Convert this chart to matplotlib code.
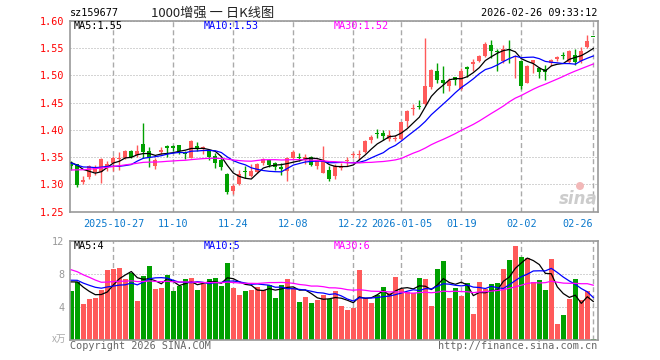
import numpy as np
import pandas as pd
import matplotlib
matplotlib.use("Agg")
import matplotlib.pyplot as plt
from matplotlib.patches import Ellipse

# daily candles, 2025-10-16 .. 2026-02-26 (88 trading days)
opens = [1.340, 1.337, 1.304, 1.314, 1.323, 1.322, 1.333, 1.340, 1.347, 1.348,
         1.362, 1.354, 1.375, 1.361, 1.333, 1.359, 1.370, 1.371, 1.372, 1.357,
         1.349, 1.370, 1.365, 1.362, 1.353, 1.345, 1.319, 1.287, 1.300, 1.323,
         1.315, 1.322, 1.339, 1.344, 1.339, 1.331, 1.325, 1.349, 1.349, 1.344,
         1.350, 1.333, 1.321, 1.327, 1.315, 1.330, 1.343, 1.354, 1.354, 1.359,
         1.382, 1.395, 1.395, 1.383, 1.384, 1.383, 1.417, 1.438, 1.444, 1.448,
         1.478, 1.508, 1.492, 1.481, 1.497, 1.476, 1.516, 1.521, 1.527, 1.536,
         1.556, 1.545, 1.527, 1.548, 1.533, 1.526, 1.487, 1.522, 1.514, 1.511,
         1.522, 1.530, 1.537, 1.525, 1.538, 1.526, 1.553, 1.571]
highs = [1.342, 1.338, 1.316, 1.336, 1.336, 1.349, 1.343, 1.352, 1.360, 1.364,
         1.364, 1.372, 1.412, 1.369, 1.348, 1.369, 1.372, 1.372, 1.373, 1.362,
         1.381, 1.378, 1.370, 1.364, 1.357, 1.348, 1.320, 1.301, 1.326, 1.333,
         1.337, 1.339, 1.348, 1.346, 1.341, 1.339, 1.351, 1.364, 1.358, 1.355,
         1.353, 1.346, 1.371, 1.333, 1.338, 1.339, 1.351, 1.360, 1.364, 1.382,
         1.391, 1.401, 1.400, 1.399, 1.391, 1.415, 1.437, 1.447, 1.455, 1.569,
         1.512, 1.523, 1.517, 1.496, 1.498, 1.514, 1.517, 1.531, 1.538, 1.561,
         1.565, 1.549, 1.556, 1.565, 1.537, 1.528, 1.519, 1.529, 1.516, 1.520,
         1.531, 1.536, 1.543, 1.547, 1.548, 1.553, 1.574, 1.571]
lows = [1.326, 1.295, 1.300, 1.310, 1.318, 1.302, 1.325, 1.325, 1.327, 1.347,
        1.348, 1.350, 1.348, 1.331, 1.329, 1.355, 1.350, 1.362, 1.356, 1.346,
        1.348, 1.362, 1.356, 1.344, 1.330, 1.327, 1.283, 1.283, 1.299, 1.311,
        1.313, 1.320, 1.336, 1.332, 1.327, 1.318, 1.307, 1.347, 1.343, 1.338,
        1.333, 1.329, 1.320, 1.306, 1.309, 1.327, 1.334, 1.348, 1.345, 1.357,
        1.376, 1.385, 1.382, 1.379, 1.379, 1.381, 1.406, 1.428, 1.438, 1.446,
        1.476, 1.486, 1.468, 1.472, 1.482, 1.474, 1.497, 1.509, 1.525, 1.534,
        1.532, 1.508, 1.522, 1.522, 1.495, 1.475, 1.486, 1.505, 1.496, 1.491,
        1.517, 1.526, 1.531, 1.523, 1.520, 1.522, 1.550, 1.570]
closes = [1.333, 1.298, 1.308, 1.333, 1.331, 1.346, 1.338, 1.348, 1.349, 1.362,
          1.351, 1.362, 1.359, 1.349, 1.345, 1.364, 1.367, 1.366, 1.362, 1.355,
          1.380, 1.366, 1.368, 1.350, 1.339, 1.332, 1.286, 1.297, 1.319, 1.322,
          1.325, 1.338, 1.346, 1.336, 1.332, 1.329, 1.348, 1.359, 1.348, 1.350,
          1.336, 1.344, 1.342, 1.309, 1.334, 1.334, 1.345, 1.356, 1.356, 1.380,
          1.387, 1.393, 1.388, 1.390, 1.386, 1.414, 1.434, 1.441, 1.442, 1.481,
          1.510, 1.492, 1.487, 1.490, 1.492, 1.509, 1.511, 1.524, 1.536, 1.557,
          1.544, 1.543, 1.548, 1.546, 1.536, 1.481, 1.518, 1.528, 1.507, 1.507,
          1.528, 1.533, 1.535, 1.545, 1.525, 1.544, 1.564, 1.570]
# volume, x万
volumes = [5.98, 6.99, 4.42, 4.98, 5.10, 6.10, 8.51, 8.63, 8.71, 7.43,
           8.15, 4.78, 7.71, 9.00, 6.22, 6.35, 7.91, 5.98, 6.50, 7.43,
           7.55, 6.02, 6.83, 7.39, 7.51, 6.59, 9.32, 6.31, 5.50, 5.98,
           6.06, 6.43, 6.02, 6.63, 5.10, 6.71, 7.43, 6.31, 4.66, 5.22,
           4.54, 4.86, 5.44, 4.94, 5.98, 4.13, 3.65, 3.93, 8.47, 5.06,
           4.53, 5.46, 6.42, 5.66, 7.63, 6.14, 5.86, 5.66, 7.51, 7.39,
           4.13, 8.59, 9.55, 5.14, 6.34, 5.38, 6.87, 3.17, 7.07, 6.14,
           6.78, 6.94, 8.59, 9.67, 11.36, 10.04, 9.88, 7.07, 7.27, 6.06,
           9.80, 1.96, 3.05, 4.98, 7.39, 4.86, 5.98, 0.16]
# 29 sessions before the first visible one (only feed the moving averages)
earlier_closes = [1.292, 1.298, 1.305, 1.301, 1.310, 1.306, 1.299, 1.308, 1.312, 1.309,
                  1.313, 1.312, 1.335, 1.344, 1.348, 1.340, 1.346, 1.339, 1.343, 1.343,
                  1.336, 1.341, 1.335, 1.340, 1.338, 1.323, 1.346, 1.350, 1.348]
earlier_volumes = [14.0, 15.5, 14.0, 15.0, 14.1, 7.8, 6.9, 7.5, 7.2, 6.8,
                   7.6, 7.4, 7.0, 7.9, 7.3, 6.7, 7.5, 7.4, 7.2, 7.6,
                   7.1, 7.8, 7.6, 7.5, 7.2, 7.0, 7.6, 7.5, 7.1]

tick_pos = [7, 17, 27, 37, 47, 55, 65, 75, 87]
tick_labels = ["2025-10-27", "11-10", "11-24", "12-08", "12-22",
               "2026-01-05", "01-19", "02-02", "02-26"]

RED = "#ff5a5a"
GREEN = "#00a000"
MONO = "DejaVu Sans Mono"
GRID = "#aaaaaa"
PX = 0.72  # one pixel line width in points

n = len(closes)
x = np.arange(n)
o = np.array(opens); c = np.array(closes)
up = c >= o
colors = np.where(up, RED, GREEN)

allc = pd.Series(earlier_closes + closes)
allv = pd.Series(earlier_volumes + volumes)
pma = {k: allc.rolling(k).mean().values[-n:] for k in (5, 10, 30)}
vma = {k: allv.rolling(k).mean().values[-n:] for k in (5, 10, 30)}
ma_col = {5: "black", 10: "#0000ff", 30: "#ff00ff"}

fig = plt.figure(figsize=(6.6, 3.6), dpi=100)
ax = fig.add_axes([70/660, (360-211.6)/360, 528/660, 190.6/360])
axv = fig.add_axes([70/660, (360-340.3)/360, 528/660, 99.6/360])

# candles
body_lo = np.minimum(o, c)
body_h = np.maximum(np.abs(c - o), 0.0018)
ax.vlines(x, lows, highs, colors=colors, lw=1.0, zorder=2)
ax.bar(x, body_h, bottom=body_lo, width=0.72, color=colors, zorder=2)
for k in (5, 10, 30):
    ax.plot(x, pma[k], color=ma_col[k], lw=0.9, zorder=3)

axv.bar(x, volumes, width=0.82, color=colors, zorder=2)
for k in (5, 10, 30):
    axv.plot(x, vma[k], color=ma_col[k], lw=0.9, zorder=3)

for a in (ax, axv):
    a.set_xlim(-0.22, 87.78)
    a.set_xticks(tick_pos)
    for s in a.spines.values():
        s.set_color("#999999")
        s.set_linewidth(1.2)
    a.grid(axis="x", color=GRID, lw=1, ls=(0, (3.6, 2.2)), zorder=0)
    a.grid(axis="y", color=GRID, lw=PX, ls=(0, (1, 2)), zorder=0)
    a.tick_params(length=0)

ax.set_ylim(1.25, 1.60)
yt = [1.25, 1.30, 1.35, 1.40, 1.45, 1.50, 1.55, 1.60]
ax.set_yticks(yt)
ax.set_yticklabels(["%.2f" % v for v in yt], color="red", fontfamily=MONO, fontsize=7.3)
ax.tick_params(axis="y", pad=4)
ax.set_xticklabels(tick_labels, color="#0a78cc", fontfamily=MONO, fontsize=7.3)
ax.tick_params(axis="x", pad=5)
ax.get_xticklabels()[-1].set_ha("right")

axv.set_ylim(0, 12)
axv.set_yticks([4, 8, 12])
axv.set_yticklabels(["4", "8", "12"], color="#999999", fontfamily=MONO, fontsize=7.3)
axv.tick_params(axis="y", pad=4)
axv.set_xticklabels([])

def ftext(px, py, s, **kw):
    fig.text(px/660, 1 - py/360, s, va="center", **kw)

ftext(70, 13, "sz159677", fontfamily=MONO, fontsize=7.3, color="black")
ftext(213, 13, "1000增强 一 日K线图", ha="center",
      fontfamily=["Noto Sans CJK SC", "DejaVu Sans"], fontsize=9.5, color="#222222")
ftext(597, 13, "2026-02-26 09:33:12", ha="right", fontfamily=MONO, fontsize=7.3)

ftext(74, 26, "MA5:1.55", fontfamily=MONO, fontsize=7.3, color="black")
ftext(204, 26, "MA10:1.53", fontfamily=MONO, fontsize=7.3, color="#0000ff")
ftext(334, 26, "MA30:1.52", fontfamily=MONO, fontsize=7.3, color="#ff00ff")
ftext(74, 246, "MA5:4", fontfamily=MONO, fontsize=7.3, color="black")
ftext(204, 246, "MA10:5", fontfamily=MONO, fontsize=7.3, color="#0000ff")
ftext(334, 246, "MA30:6", fontfamily=MONO, fontsize=7.3, color="#ff00ff")

ftext(66, 339, "x万", ha="right", fontfamily=["Noto Sans CJK SC", "DejaVu Sans"],
      fontsize=7, color="#aaaaaa")
ftext(70, 346, "Copyright 2026 SINA.COM", fontfamily=MONO, fontsize=7.3, color="#666666")
ftext(597, 346, "http://finance.sina.com.cn", ha="right", fontfamily=MONO,
      fontsize=7.3, color="#666666")

# faint sina watermark
ftext(578, 199, "sina", ha="center", fontsize=12, fontweight="bold", style="italic",
      color="#cccccc")
fig.patches.append(Ellipse((580/660, 1 - 186/360), 8/660, 8/360, transform=fig.transFigure,
                           facecolor="#f2b8b8", edgecolor="none", zorder=1))

fig.savefig("out.png", dpi=100)
